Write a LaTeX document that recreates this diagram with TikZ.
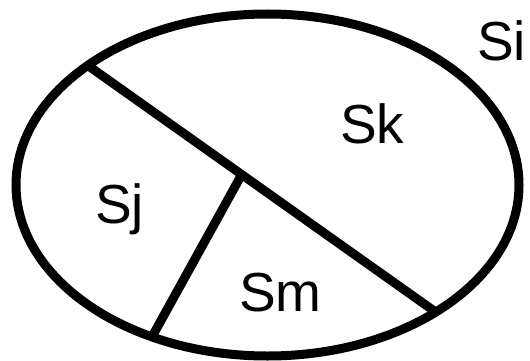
\documentclass[tikz,border=0pt]{standalone}
\usepackage{fontspec}
\setmainfont{Liberation Sans}
\begin{document}
\begin{tikzpicture}[x=1pt,y=-1pt,
  thick line/.style={line width=9pt,black},
  lbl/.style={anchor=base west,inner sep=0pt,font=\fontsize{55}{60}\selectfont}]
\useasboundingbox (0,0) rectangle (530,361);
\draw[thick line] (267.5,185) ellipse [x radius=251.5pt, y radius=171pt];
\coordinate (a) at (90,67);
\coordinate (b) at (437,313);
\coordinate (c) at (242,174);
\coordinate (d) at (153,335);
\draw[thick line] (a) -- (b);
\draw[thick line] (c) -- (d);
\node[lbl] (si) at (477,60) {Si};
\node[lbl] (sk) at (340,143) {Sk};
\node[lbl] (sj) at (95,223) {Sj};
\node[lbl] (sm) at (239,311) {Sm};
\end{tikzpicture}
\end{document}
